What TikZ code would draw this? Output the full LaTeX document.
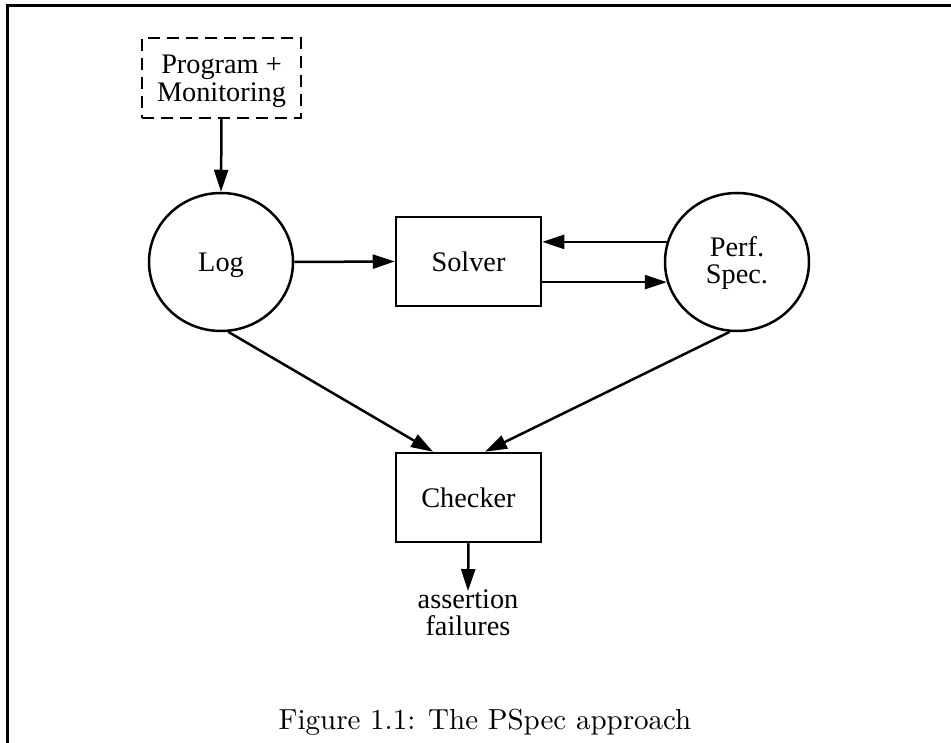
\documentclass[tikz,border=0pt]{standalone}
\usepackage{fontspec}
\setmainfont{Liberation Serif}
\newfontfamily\lmfont{lmroman10-regular.otf}
\usetikzlibrary{arrows.meta,shapes.geometric}
\tikzset{
  lw/.style={line width=2.5pt},
  boxnode/.style={draw,lw,rectangle,inner sep=0pt,minimum width=145pt,minimum height=89pt,
    font=\fontsize{28.3}{27.5}\selectfont,text height=20pt,text depth=0pt},
  circnode/.style={draw,lw,ellipse,inner sep=0pt,minimum width=144pt,minimum height=138pt,
    font=\fontsize{28.3}{27.5}\selectfont,align=center},
  arr/.style={lw,-{Triangle[length=22pt,width=14pt]}},
  dashbox/.style={draw,lw,dash pattern=on 12pt off 7pt,rectangle,inner sep=0pt,
    minimum width=159pt,minimum height=80pt,align=center,font=\fontsize{28.3}{28}\selectfont},
  frameline/.style={line width=2.8pt},
}
\begin{document}
\begin{tikzpicture}[x=1pt,y=-1pt]
\useasboundingbox (0,0) rectangle (951,743);
\coordinate (fbl) at (7.8,743);
\coordinate (ftl) at (7.8,5.3);
\coordinate (ftr) at (951,5.3);
\draw[frameline] (fbl) -- (ftl) -- (ftr);

\node[dashbox,text height=48pt,text depth=0pt] (prog) at (221.5,78) {Program +\\Monitoring};
\node[circnode,text height=20pt,text depth=0pt] (log) at (221,262) {Log};
\node[boxnode] (solver) at (468.5,261.5) {Solver};
\node[circnode,text height=44pt,text depth=0pt] (perf) at (737,262) {Perf.\\Spec.};
\node[boxnode] (checker) at (468.5,497.5) {Checker};
\node[align=center,inner sep=0pt,anchor=base,font=\fontsize{28.3}{27}\selectfont] (out) at (468,635) {assertion\\failures};
\node[anchor=base,inner sep=0pt,font=\lmfont\fontsize{29}{34}\selectfont] (cap) at (485,729) {Figure 1.1: The PSpec approach};

\draw[arr] (prog.south) -- (log.north);
\draw[arr] (log.east) -- (solver.west);
\draw[arr] (perf.164) -- (perf.164 -| solver.east);
\draw[arr] (solver.east |- perf.196) -- (perf.196);
\draw[arr] (log.-84) -- ([xshift=-35.5pt]checker.north);
\draw[arr] (perf.-96) -- ([xshift=16.5pt]checker.north);
\draw[arr] (checker.south) -- ([yshift=-2pt]out.north);
\end{tikzpicture}
\end{document}
